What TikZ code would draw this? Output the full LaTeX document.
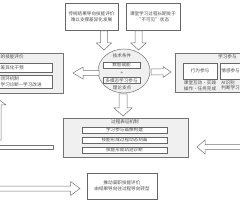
\documentclass[tikz,border=0pt]{standalone}
\usepackage{fontspec}
\setmainfont{Noto Sans CJK SC}
\usetikzlibrary{shapes.geometric}
\newcommand\VArrow[6]{\draw[hol] ({#1-#4},#2) -- ({#1-#4},{#3-(#6)*sign((#3)-(#2))}) -- ({#1-#5},{#3-(#6)*sign((#3)-(#2))}) -- (#1,#3) -- ({#1+#5},{#3-(#6)*sign((#3)-(#2))}) -- ({#1+#4},{#3-(#6)*sign((#3)-(#2))}) -- ({#1+#4},#2) -- cycle;}
\newcommand\HArrow[6]{\draw[hol] (#2,{#1-#4}) -- ({#3-(#6)*sign((#3)-(#2))},{#1-#4}) -- ({#3-(#6)*sign((#3)-(#2))},{#1-#5}) -- (#3,#1) -- ({#3-(#6)*sign((#3)-(#2))},{#1+#5}) -- ({#3-(#6)*sign((#3)-(#2))},{#1+#4}) -- (#2,{#1+#4}) -- cycle;}
\begin{document}
\begin{tikzpicture}[x=1pt,y=-1pt,
  font=\fontsize{4.6}{5.6}\selectfont,
  box/.style={draw=black!60, line width=0.5pt, fill=white, inner sep=0pt, align=center, text=black!70},
  outer/.style={draw=black!55, line width=0.5pt, fill=black!6, inner sep=0pt},
  lbl/.style={inner sep=0pt, text=black!70, align=center},
  hol/.style={draw=black!55, line width=0.5pt, fill=white}]
\useasboundingbox (0,0) rectangle (240,200);
\clip (0,0) rectangle (240,200);

% top boxes
\node[box, minimum width=53pt, minimum height=27pt] (t1) at (91.5,16.5) {传统结果导向技能评价\\难以支撑差异化发展};
\node[box, minimum width=54pt, minimum height=27pt] (t2) at (153,16.5) {课堂学习过程长期处于\\“不可见”状态};

% ellipse
\node[draw=black!55, line width=0.5pt, fill=black!6, ellipse, minimum width=52pt, minimum height=44pt, inner sep=0pt] (el) at (124,71) {};
\node[lbl] (e1) at (122,56) {技术条件};
\node[box, minimum width=37pt, minimum height=6pt] (e2) at (121.5,65) {数智赋能};
\node[lbl] (e3) at (122,73) {+};
\node[box, minimum width=37pt, minimum height=6pt] (e4) at (121.5,80.5) {多模态学习参与};
\node[lbl] (e5) at (122,88) {理论支点};

% left box (cut off)
\node[outer, minimum width=83pt, minimum height=40pt] (lb) at (21.5,73) {};
\node[lbl, anchor=west] (lt) at (0.5,57) {的技能评价};
\node[box, minimum width=67pt, minimum height=9pt] (l1) at (18.5,67.5) {};
\node[lbl, anchor=west] (l1t) at (0.5,67.5) {差异化干预};
\node[box, minimum width=67pt, minimum height=13pt] (l2) at (18.5,81.5) {};
\node[lbl, anchor=west] (l2a) at (0.5,78.8) {闭环机制};
\node[lbl, anchor=west] (l2b) at (0.5,84.5) {学习诊断—学习改进};

% right box (cut off)
\node[outer, minimum width=95pt, minimum height=39pt] (rb) at (222.5,72.5) {};
\node[lbl, anchor=west] (rt) at (218,57) {学习参与};
\node[box, minimum width=34pt, minimum height=16pt] (r1) at (200,71) {行为参与};
\node[box, minimum width=34pt, minimum height=16pt] (r2) at (237,71) {};
\node[lbl, anchor=west] (r2l) at (221.2,71) {情感参与};
\node[lbl] (r1t) at (200,85.5) {课堂互动·实践\\操作·任务完成};
\node[lbl, anchor=west, align=left] (r2t) at (221.2,85.5) {AI识别\\判断学习};

% middle box
\node[outer, minimum width=125pt, minimum height=39pt] (mb) at (125.5,137.5) {};
\node[lbl] (mt) at (125,122) {过程表征机制};
\node[box, minimum width=85pt, minimum height=6pt] (m1) at (124.5,130) {学习参与画像构建};
\node[box, minimum width=85pt, minimum height=6pt] (m2) at (124.5,140) {技能形成过程动态刻画};
\node[box, minimum width=85pt, minimum height=6pt] (m3) at (124.5,150) {技能形成轨迹诊断};

% bottom box
\node[box, minimum width=70pt, minimum height=26pt] (bb) at (122,186) {推动高职技能评价\\由结果导向往过程导向转型};

% hollow arrows
\VArrow{104}{31}{50}{3.5}{7.5}{7}
\VArrow{138.5}{31}{50}{3.5}{7.5}{7}
\HArrow{72}{151}{171}{3}{5.5}{8}
\HArrow{73}{99}{73}{2.5}{6}{10}
\VArrow{123}{94}{116}{4}{9}{8}
\HArrow{147}{250}{197}{2.5}{7}{8}
\HArrow{188.5}{-10}{80}{2.5}{7}{9.5}
\draw[hol] (-10,145.5) rectangle (53,149.5);
\VArrow{-3}{140}{98}{4}{9}{7}
\end{tikzpicture}
\end{document}
